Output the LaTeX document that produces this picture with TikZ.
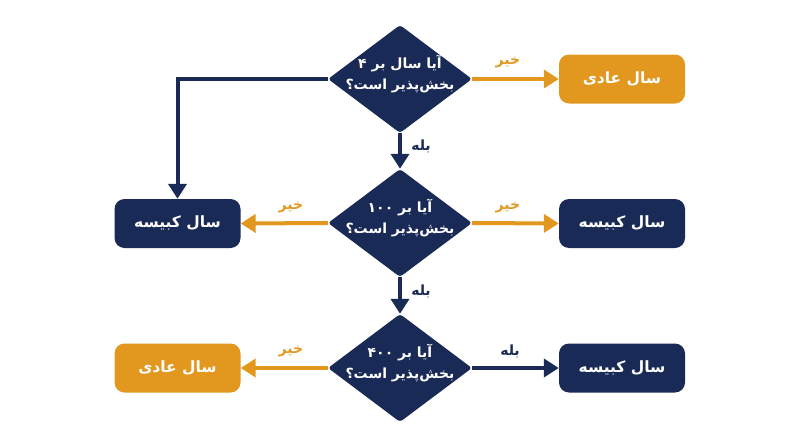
\documentclass[tikz,border=0pt]{standalone}
\usepackage{fontspec}
\usetikzlibrary{shapes.geometric,arrows.meta}
\TeXXeTstate=1
\newfontfamily\fa[Script=Arabic]{DejaVu Sans}
\definecolor{navy}{HTML}{1A2A56}
\definecolor{gold}{HTML}{E2981F}
\begin{document}
\begin{tikzpicture}[x=1pt,y=-1pt,
 dia/.style={diamond,fill=navy,minimum width=144pt,minimum height=108pt,inner sep=0pt,rounded corners=3pt},
 dtext/.style={text=white,font=\fa\bfseries\fontsize{14}{21}\selectfont,align=center,inner sep=0pt},
 box/.style={rectangle,rounded corners=10pt,minimum width=126pt,minimum height=49pt,inner sep=0pt,text=white,font=\fa\bfseries\fontsize{15.5}{18}\selectfont},
 navybox/.style={box,fill=navy},
 goldbox/.style={box,fill=gold},
 conn/.style={line width=4pt,-{Triangle[length=15pt,width=18pt]}},
 lbl/.style={font=\fa\bfseries\fontsize{14}{16}\selectfont,inner sep=0pt}
]
\useasboundingbox (0,0) rectangle (800,447);
% diamonds
\node[dia] (d1) at (400,79) {};
\node[dia] (d2) at (400,223) {};
\node[dia] (d3) at (400,368) {};
\node[dtext] (t1) at (400,74) {\beginR آیا سال بر ۴\endR\\\beginR بخش‌پذیر است؟\endR};
\node[dtext] (t2) at (400,218) {\beginR آیا بر \beginL۱۰۰\endL\endR\\\beginR بخش‌پذیر است؟\endR};
\node[dtext] (t3) at (400,363) {\beginR آیا بر \beginL۴۰۰\endL\endR\\\beginR بخش‌پذیر است؟\endR};
% boxes
\node[goldbox] (b1) at (622,79) {\beginR سال عادی\endR};
\node[navybox] (b2l) at (177.5,223.5) {\beginR سال کبیسه\endR};
\node[navybox] (b2r) at (622,223.5) {\beginR سال کبیسه\endR};
\node[goldbox] (b3l) at (177.5,368) {\beginR سال عادی\endR};
\node[navybox] (b3r) at (622,368) {\beginR سال کبیسه\endR};
% connectors
\draw[conn,gold] (d1.east) -- (b1.west);
\draw[conn,navy] (d1.west) -| (b2l.north);
\draw[conn,navy] (d1.south) -- (d2.north);
\draw[conn,gold] (d2.west) -- (b2l.east);
\draw[conn,gold] (d2.east) -- (b2r.west);
\draw[conn,navy] (d2.south) -- (d3.north);
\draw[conn,gold] (d3.west) -- (b3l.east);
\draw[conn,navy] (d3.east) -- (b3r.west);
% labels
\node[lbl,text=gold] (l1) at (508,62) {\beginR خیر\endR};
\node[lbl,text=navy] (l2) at (421,146) {\beginR بله\endR};
\node[lbl,text=gold] (l3) at (291,207) {\beginR خیر\endR};
\node[lbl,text=gold] (l4) at (508,207) {\beginR خیر\endR};
\node[lbl,text=navy] (l5) at (421,291) {\beginR بله\endR};
\node[lbl,text=gold] (l6) at (291,351) {\beginR خیر\endR};
\node[lbl,text=navy] (l7) at (510,351) {\beginR بله\endR};
\end{tikzpicture}
\end{document}
